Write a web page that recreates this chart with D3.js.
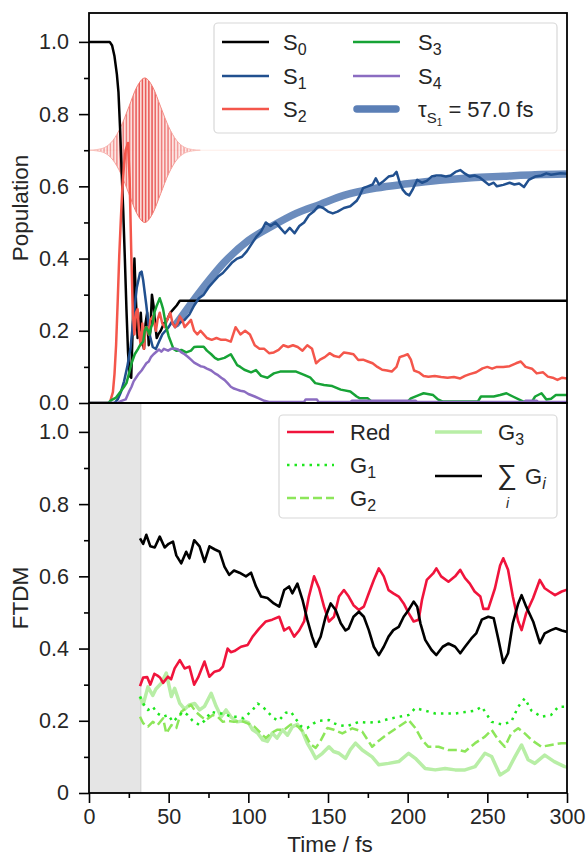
<!DOCTYPE html>
<html>
<head>
<meta charset="utf-8">
<script src="https://cdn.jsdelivr.net/npm/d3@7/dist/d3.min.js"></script>
<style>
body { margin: 0; background: #fff; }
text { font-family: "Liberation Sans", Arial, sans-serif; fill: #262626; }
</style>
</head>
<body>
<script>
// ---- top panel: state populations, [time fs, population]
var S0 = [[0,1],[13,1],[14.5,0.99],[16,0.96],[17.5,0.91],[18.5,0.86],[19.5,0.76],[20.5,0.64],[21.5,0.53],[22.5,0.4],[23.5,0.26],[24.5,0.14],[25.5,0.075],[26.5,0.07],[27.5,0.22],[28.5,0.4],[29.5,0.28],[30.5,0.18],[31.5,0.2],[32.5,0.25],[33.5,0.17],[34.5,0.15],[35.5,0.22],[36.5,0.25],[37.5,0.16],[38.5,0.2],[39.5,0.3],[40.5,0.27],[41.5,0.22],[42.5,0.18],[43.5,0.19],[45,0.2],[47,0.22],[49,0.23],[51,0.25],[53,0.26],[55,0.27],[57,0.283],[300,0.283]];

var S1 = [[0,0],[16,0],[18,0.01],[20,0.03],[22,0.06],[24,0.1],[26,0.15],[28,0.24],[30,0.32],[32,0.36],[33,0.364],[34,0.34],[36,0.27],[38,0.19],[40,0.155],[42,0.15],[44,0.17],[46,0.19],[48,0.2],[50,0.21],[52,0.225],[54,0.21],[56,0.22],[58,0.225],[60,0.23],[63,0.245],[66,0.27],[69,0.29],[72,0.3],[75,0.32],[78,0.335],[81,0.35],[84,0.36],[87,0.375],[90,0.39],[93,0.4],[96,0.405],[99,0.42],[102,0.44],[105,0.46],[108,0.475],[111,0.5],[114,0.49],[117,0.5],[120,0.485],[123,0.47],[126,0.485],[129,0.47],[132,0.49],[135,0.5],[138,0.52],[141,0.53],[144,0.545],[147,0.54],[150,0.53],[153,0.525],[156,0.53],[160,0.54],[164,0.545],[168,0.56],[170,0.575],[172,0.595],[175,0.6],[178,0.605],[180,0.622],[182,0.605],[185,0.615],[188,0.627],[191,0.63],[193,0.64],[195,0.61],[197,0.59],[199,0.58],[201,0.575],[203,0.59],[206,0.618],[209,0.61],[212,0.615],[215,0.627],[218,0.63],[221,0.63],[224,0.627],[227,0.63],[230,0.64],[233,0.645],[236,0.635],[239,0.627],[242,0.63],[245,0.625],[248,0.615],[251,0.604],[254,0.61],[256,0.6],[260,0.604],[264,0.61],[267,0.605],[270,0.608],[273,0.598],[276,0.618],[280,0.627],[284,0.63],[287,0.636],[290,0.632],[293,0.634],[296,0.636],[300,0.635]];

var S2 = [[0,0],[13,0],[15,0.03],[16,0.08],[17,0.16],[18,0.28],[19,0.41],[20,0.51],[21,0.6],[22,0.66],[23,0.7],[24.5,0.72],[25.5,0.62],[26.5,0.42],[27.5,0.25],[28.5,0.19],[29.5,0.25],[30.5,0.26],[31.5,0.19],[32.5,0.16],[33.5,0.22],[34.5,0.15],[35.5,0.21],[36.5,0.21],[37.5,0.19],[38.5,0.23],[40,0.24],[41,0.22],[42,0.2],[43,0.23],[44.4,0.25],[46,0.22],[47.5,0.21],[49,0.23],[51,0.25],[52.5,0.22],[54,0.21],[55.5,0.22],[57,0.24],[58.5,0.23],[60,0.21],[62,0.22],[64,0.23],[66,0.2],[68,0.19],[70,0.2],[72,0.19],[74,0.18],[77,0.175],[80,0.18],[83,0.175],[86,0.175],[89,0.17],[92,0.21],[95,0.19],[98,0.2],[101,0.19],[104,0.16],[107,0.15],[110,0.15],[113,0.138],[116,0.14],[119,0.147],[122,0.16],[125,0.155],[128,0.16],[131,0.155],[134,0.145],[137,0.16],[140,0.15],[142.5,0.11],[145,0.12],[148,0.127],[151,0.138],[154,0.13],[157,0.127],[160,0.14],[163,0.138],[166,0.135],[169,0.119],[172,0.12],[175,0.115],[178,0.11],[181,0.1],[184,0.092],[187,0.09],[190,0.087],[193,0.1],[195,0.127],[197,0.13],[200,0.135],[202,0.12],[204,0.09],[207,0.085],[210,0.075],[213,0.073],[217,0.075],[221,0.072],[225,0.07],[229,0.072],[233,0.068],[236,0.075],[239,0.08],[243,0.085],[247,0.096],[250,0.1],[253,0.095],[256,0.1],[260,0.1],[264,0.102],[268,0.11],[271,0.115],[274,0.1],[278,0.095],[281,0.082],[285,0.085],[288,0.073],[291,0.07],[294,0.064],[297,0.07],[300,0.068]];

var S3 = [[0,0],[12,0],[14,0.008],[17,0.015],[19.5,0.03],[22,0.045],[23.5,0.055],[25,0.08],[26.7,0.11],[28.7,0.135],[30.8,0.15],[32,0.16],[34,0.17],[35,0.2],[36,0.21],[37,0.2],[38,0.19],[39,0.21],[40,0.22],[41,0.25],[42.3,0.267],[43.5,0.28],[44.4,0.29],[45.5,0.275],[46.5,0.26],[47.5,0.235],[48.5,0.21],[50,0.185],[51.7,0.165],[53,0.15],[54.8,0.145],[58,0.147],[61,0.14],[64,0.145],[66,0.155],[68,0.156],[72,0.156],[74,0.145],[76.7,0.135],[79,0.125],[81,0.12],[85,0.125],[89,0.135],[91,0.12],[93,0.105],[95,0.1],[97.5,0.092],[101.7,0.085],[104.8,0.091],[108,0.075],[112,0.07],[116,0.082],[120,0.087],[125,0.087],[130,0.087],[135,0.078],[139,0.07],[142,0.055],[147.5,0.05],[152.7,0.047],[158,0.037],[164,0.032],[168,0.018],[170,0.013],[175,0.013],[177,0.005],[200,0.004],[202,0.013],[207,0.022],[210,0.027],[216,0.022],[219,0.01],[222,0.004],[244,0.004],[246,0.018],[254,0.018],[258,0.022],[262,0.027],[266,0.018],[272,0.005],[278,0.004],[280,0.018],[284,0.027],[287,0.01],[290,0.012],[293,0.022],[300,0.022]];

var S4 = [[0,0],[18,0],[20,0.005],[23,0.01],[25,0.03],[26.7,0.045],[28,0.06],[29.8,0.072],[31,0.08],[33,0.09],[34.5,0.1],[36,0.11],[37.5,0.115],[39,0.128],[40.5,0.135],[42.3,0.142],[44,0.148],[45.4,0.142],[47,0.15],[49.6,0.145],[51.5,0.15],[53.75,0.151],[56,0.148],[58,0.14],[60,0.135],[62,0.128],[64,0.12],[66,0.112],[68,0.107],[70,0.102],[72,0.1],[74,0.095],[76.7,0.09],[79,0.082],[81,0.077],[83,0.07],[85,0.064],[87,0.055],[89,0.045],[91,0.04],[93,0.037],[95,0.034],[97.5,0.032],[100,0.025],[104,0.018],[107,0.012],[110,0.006],[113,0.003],[135,0.003],[136,0.01],[143,0.01],[144,0.003],[164,0.003],[165,0.006],[205,0.006],[206,0.003],[273,0.003],[274,0.006],[281,0.006],[282,0.003],[300,0.003]];

// exponential fit of S1 (tau = 57.0 fs)
var S1fit = [[55,0.22],[70,0.31],[85,0.39],[100,0.45],[115,0.49],[130,0.525],[145,0.55],[160,0.575],[180,0.595],[200,0.607],[220,0.617],[240,0.624],[260,0.628],[280,0.632],[300,0.634]];

// pump pulse envelope (half amplitude) around the 0.7 baseline
var pulseBase = 0.7;
var pulseEnv = [[0,0],[5,0.002],[10,0.008],[15,0.027],[20,0.065],[25,0.12],[30,0.175],[35,0.2],[40,0.175],[45,0.12],[50,0.065],[55,0.027],[60,0.008],[65,0.002],[70,0]];

// ---- bottom panel: FTDM, [time fs, value]
var Red = [[32,0.296],[34,0.32],[36.5,0.321],[38.5,0.3],[41,0.33],[43,0.325],[44.5,0.32],[46.5,0.305],[49.5,0.322],[51.5,0.315],[53.75,0.345],[57,0.368],[60,0.345],[63,0.35],[66,0.3],[68.5,0.32],[72.5,0.364],[75.5,0.322],[78.75,0.336],[82,0.34],[84,0.35],[87,0.4],[89,0.39],[91.25,0.393],[95.4,0.405],[99.6,0.41],[102.7,0.433],[106.9,0.456],[111,0.475],[115,0.48],[119.4,0.488],[122.5,0.45],[125.6,0.459],[128.75,0.433],[131.9,0.45],[135,0.475],[138,0.544],[141.25,0.6],[144.4,0.567],[147.5,0.516],[150.6,0.475],[153.75,0.488],[156.9,0.544],[160,0.562],[163,0.544],[166,0.52],[169.4,0.507],[172.5,0.516],[175.6,0.553],[178.75,0.59],[181.9,0.622],[185,0.6],[188,0.562],[191,0.553],[194.4,0.544],[197.5,0.525],[200.6,0.498],[203.75,0.475],[206.9,0.48],[209,0.535],[212,0.59],[216,0.608],[218,0.622],[221,0.6],[225.6,0.585],[229.8,0.6],[233,0.618],[236,0.595],[239,0.58],[242,0.558],[245.6,0.544],[247.5,0.51],[250.6,0.51],[254.8,0.567],[258,0.63],[260,0.65],[263,0.618],[266,0.544],[269.4,0.475],[271.5,0.451],[274.4,0.498],[278.75,0.54],[282.9,0.59],[286,0.567],[289,0.558],[292.5,0.548],[296.7,0.558],[300,0.563]];

var G1 = [[32,0.267],[34,0.248],[37,0.23],[40,0.239],[43,0.22],[46.5,0.211],[49.6,0.216],[52.7,0.197],[55.8,0.211],[59,0.225],[62,0.216],[65,0.2],[69.4,0.188],[72.5,0.2],[76.7,0.225],[80.8,0.22],[85,0.22],[89,0.211],[93,0.211],[97,0.207],[102.7,0.23],[105.8,0.248],[109,0.239],[112,0.225],[116,0.207],[119,0.2],[123.5,0.222],[126.7,0.225],[129.8,0.205],[133,0.185],[137,0.18],[141,0.193],[144.4,0.2],[150.6,0.202],[153.75,0.193],[157,0.188],[162,0.185],[165,0.19],[169.4,0.197],[175,0.195],[181.9,0.197],[188,0.205],[194.4,0.211],[200.6,0.216],[204.8,0.235],[211,0.228],[217.3,0.22],[223.5,0.22],[229.8,0.22],[236,0.224],[242.3,0.228],[246.5,0.239],[252.7,0.197],[259,0.19],[265,0.197],[269.4,0.239],[273.5,0.262],[277.7,0.228],[284,0.211],[290,0.216],[294.6,0.239],[300,0.239]];

var G2 = [[32,0.211],[34,0.193],[37,0.184],[40,0.197],[43,0.188],[46.5,0.207],[48.5,0.165],[51.7,0.188],[54.8,0.18],[57.9,0.225],[61,0.235],[64,0.244],[67,0.225],[70.6,0.211],[73.5,0.202],[77.7,0.216],[80.8,0.211],[84,0.197],[87,0.2],[91,0.197],[95.4,0.2],[99.6,0.193],[103.75,0.184],[108,0.165],[111,0.152],[114,0.165],[118,0.175],[122.5,0.175],[126.7,0.19],[130.8,0.185],[135,0.168],[139,0.135],[142.3,0.125],[145.4,0.145],[149.6,0.18],[153.75,0.175],[159,0.165],[165.2,0.179],[171.5,0.17],[177.7,0.128],[181.9,0.145],[188,0.165],[194.4,0.184],[200.6,0.202],[204.8,0.18],[209,0.147],[213,0.128],[219.4,0.128],[225.6,0.119],[231.9,0.119],[236,0.115],[242.3,0.138],[248.5,0.156],[252.7,0.175],[256.9,0.147],[261,0.128],[265,0.165],[269.4,0.179],[273.5,0.165],[277.7,0.147],[284,0.128],[290,0.133],[296.5,0.138],[300,0.138]];

var G3 = [[32,0.267],[34,0.245],[37,0.294],[40,0.27],[42,0.288],[45.4,0.304],[48.5,0.332],[51.7,0.267],[53.75,0.29],[57,0.248],[60,0.232],[63,0.244],[66.25,0.248],[69.4,0.23],[72.5,0.24],[76.7,0.276],[79.8,0.24],[83,0.211],[86,0.23],[89,0.211],[93,0.197],[97,0.2],[100,0.195],[102.7,0.175],[105.8,0.166],[109,0.147],[112,0.143],[115,0.166],[118,0.152],[121.5,0.175],[124.6,0.16],[127.7,0.184],[130.8,0.19],[134,0.17],[137,0.138],[140,0.115],[142.3,0.096],[146.5,0.11],[150.6,0.128],[153.5,0.115],[156.9,0.11],[161,0.096],[164,0.12],[167.3,0.138],[171.5,0.119],[177.7,0.1],[181.9,0.078],[188,0.082],[194.4,0.087],[200.6,0.11],[204.8,0.096],[211,0.068],[217.3,0.064],[223.5,0.068],[229.8,0.064],[236,0.064],[242.3,0.073],[248.5,0.11],[252.7,0.101],[258,0.05],[263,0.064],[267.3,0.1],[271.5,0.133],[275.6,0.092],[279.8,0.082],[286,0.105],[292,0.087],[298.5,0.073],[300,0.072]];

var SumG = [[32,0.705],[34,0.69],[36,0.715],[38.5,0.683],[41.25,0.68],[44.4,0.71],[47.5,0.68],[50,0.69],[52.7,0.696],[54.8,0.658],[57.9,0.636],[61,0.668],[63,0.65],[66,0.7],[69.4,0.683],[72.5,0.64],[75.6,0.683],[78.75,0.675],[82,0.668],[85,0.627],[88,0.604],[91,0.616],[94.4,0.61],[98.5,0.6],[101.7,0.61],[104.8,0.572],[108,0.544],[112,0.54],[116,0.525],[119.4,0.516],[122.5,0.562],[125.6,0.572],[127.6,0.553],[130.8,0.58],[134,0.535],[137,0.48],[140,0.433],[142.3,0.405],[145.4,0.433],[148.5,0.488],[151.7,0.525],[154.8,0.507],[158,0.47],[161,0.45],[163,0.456],[166,0.488],[169.4,0.502],[172.5,0.488],[175.6,0.451],[178.75,0.405],[181.9,0.382],[185,0.405],[188,0.433],[191,0.451],[194.4,0.46],[197.5,0.488],[200.6,0.507],[203.75,0.53],[206,0.516],[208,0.47],[211,0.424],[215,0.396],[218,0.382],[222,0.405],[225.6,0.414],[229.8,0.405],[233,0.387],[236,0.405],[240,0.428],[243,0.442],[246.5,0.48],[250.6,0.488],[254,0.484],[257,0.424],[260,0.36],[263,0.387],[266,0.47],[269.4,0.525],[271.5,0.548],[274.4,0.516],[278.75,0.475],[283,0.415],[286,0.442],[290,0.451],[293,0.456],[296.7,0.45],[300,0.446]];

var shadeEnd = 32.5;   // grey region (fs) in the lower panel

// ticks
var xMajor = [0,50,100,150,200,250,300];
var xMinor = [25,75,125,175,225,275];
var yMajor = [0,0.2,0.4,0.6,0.8,1.0];
var yMinor = [0.1,0.3,0.5,0.7,0.9];

// ---- layout
var W = 587, H = 857;
var x = d3.scaleLinear().domain([0,300]).range([89,567]);
var yTop = d3.scaleLinear().domain([0,1.08]).range([403,13]);
var yBot = d3.scaleLinear().domain([0,1.08]).range([793,403]);

var svg = d3.select("body").append("svg")
    .attr("width", W)
    .attr("height", H);

var defs = svg.append("defs");
defs.append("clipPath").attr("id","clipTop").append("rect")
    .attr("x",89).attr("y",13).attr("width",478).attr("height",390);
defs.append("clipPath").attr("id","clipBot").append("rect")
    .attr("x",89).attr("y",403).attr("width",478).attr("height",390);

// vertical hatch used for the pump pulse oscillation
var pat = defs.append("pattern").attr("id","hatch")
    .attr("patternUnits","userSpaceOnUse")
    .attr("width",3.2).attr("height",20);
pat.append("rect").attr("width",3.2).attr("height",20).attr("fill","#fbd8d4");
pat.append("rect").attr("x",1).attr("width",1.3).attr("height",20).attr("fill","#e63a38");

var grad = defs.append("linearGradient").attr("id","fade")
    .attr("x1","0").attr("x2","1").attr("y1","0").attr("y2","0");
grad.append("stop").attr("offset","0").attr("stop-color","#fff").attr("stop-opacity",0.3);
grad.append("stop").attr("offset","0.33").attr("stop-color","#fff").attr("stop-opacity",0.75);
grad.append("stop").attr("offset","0.5").attr("stop-color","#fff").attr("stop-opacity",1);
grad.append("stop").attr("offset","0.67").attr("stop-color","#fff").attr("stop-opacity",0.75);
grad.append("stop").attr("offset","1").attr("stop-color","#fff").attr("stop-opacity",0.3);
defs.append("mask").attr("id","pulseMask")
  .append("rect")
    .attr("x",x(0)).attr("y",yTop(1)).attr("width",x(70)-x(0)).attr("height",yTop(0.4)-yTop(1))
    .attr("fill","url(#fade)");

function line(y) {
  return d3.line().x(function(d){ return x(d[0]); }).y(function(d){ return y(d[1]); });
}

// ================= top panel =================
var gTop = svg.append("g").attr("clip-path","url(#clipTop)");

// faint pulse baseline across the whole range
gTop.append("path")
    .attr("d", line(yTop)([[0,pulseBase],[300,pulseBase]]))
    .attr("fill","none").attr("stroke","#feeee8").attr("stroke-width",1);

var pulseArea = d3.area()
    .x(function(d){ return x(d[0]); })
    .y0(function(d){ return yTop(pulseBase - d[1]); })
    .y1(function(d){ return yTop(pulseBase + d[1]); })
    .curve(d3.curveMonotoneX);
var pg = gTop.append("g").attr("mask","url(#pulseMask)");
pg.append("path").attr("d", pulseArea(pulseEnv))
    .attr("fill","url(#hatch)").attr("stroke","#f06a60").attr("stroke-width",1);

// fit
gTop.append("path")
    .attr("d", line(yTop).curve(d3.curveMonotoneX)(S1fit))
    .attr("fill","none").attr("stroke","#5b7fb6").attr("stroke-width",7.5)
    .attr("stroke-linecap","round").attr("opacity",0.9);

var topSeries = [
  {data:S0, color:"#000000"},
  {data:S1, color:"#21508f"},
  {data:S2, color:"#f4564b"},
  {data:S3, color:"#17a336"},
  {data:S4, color:"#8b6cc1"}
];
topSeries.forEach(function(s){
  gTop.append("path").attr("d", line(yTop)(s.data))
     .attr("fill","none").attr("stroke",s.color).attr("stroke-width",2.5)
     .attr("stroke-linejoin","round");
});

// ================= bottom panel =================
var gBot = svg.append("g").attr("clip-path","url(#clipBot)");
gBot.append("rect")
    .attr("x",x(0)).attr("y",yBot(1.08))
    .attr("width",x(shadeEnd)-x(0)).attr("height",yBot(0)-yBot(1.08))
    .attr("fill","#e5e5e5");
gBot.append("line")
    .attr("x1",x(shadeEnd)).attr("x2",x(shadeEnd))
    .attr("y1",yBot(1.08)).attr("y2",yBot(0))
    .attr("stroke","#d2d2d2").attr("stroke-width",1.2);

var botSeries = [
  {data:G3, color:"#b8eea6", w:3.5, dash:null},
  {data:G2, color:"#8de65a", w:2.5, dash:"9,4"},
  {data:G1, color:"#1ee61e", w:2.5, dash:"2.5,5"},
  {data:Red, color:"#f0143c", w:2.6, dash:null},
  {data:SumG, color:"#000000", w:2.6, dash:null}
];
botSeries.forEach(function(s){
  gBot.append("path").attr("d", line(yBot)(s.data))
     .attr("fill","none").attr("stroke",s.color).attr("stroke-width",s.w)
     .attr("stroke-dasharray",s.dash).attr("stroke-linejoin","round");
});

// ================= axes =================
function yAxis(y, fmt) {
  svg.append("g").attr("transform","translate(89,0)")
     .call(d3.axisLeft(y).tickValues(yMajor).tickSize(10).tickPadding(10).tickFormat(fmt))
     .call(function(g){ g.select(".domain").remove(); });
  svg.append("g").attr("transform","translate(89,0)")
     .call(d3.axisLeft(y).tickValues(yMinor).tickSize(5).tickFormat(""))
     .call(function(g){ g.select(".domain").remove(); });
}
yAxis(yTop, d3.format(".1f"));
yAxis(yBot, function(d){ return d === 0 ? "0" : d3.format(".1f")(d); });

svg.append("g").attr("transform","translate(0,793)")
   .call(d3.axisBottom(x).tickValues(xMajor).tickSize(10).tickPadding(6).tickFormat(d3.format("d")))
   .call(function(g){ g.select(".domain").remove(); });
svg.append("g").attr("transform","translate(0,793)")
   .call(d3.axisBottom(x).tickValues(xMinor).tickSize(5).tickFormat(""))
   .call(function(g){ g.select(".domain").remove(); });

svg.selectAll(".tick line").attr("stroke","#000").attr("stroke-width",1.6);
svg.selectAll(".tick text").attr("font-size",21.5).attr("fill","#262626")
   .attr("font-family","Liberation Sans, Arial, sans-serif");

// frames
[[13,403],[403,793]].forEach(function(r){
  svg.append("rect").attr("x",89).attr("y",r[0]).attr("width",478).attr("height",r[1]-r[0])
     .attr("fill","none").attr("stroke","#000").attr("stroke-width",1.8);
});

// axis labels
svg.append("text").attr("transform","translate(28,208) rotate(-90)")
   .attr("text-anchor","middle").attr("font-size",22.5).text("Population");
svg.append("text").attr("transform","translate(28,598) rotate(-90)")
   .attr("text-anchor","middle").attr("font-size",22.5).text("FTDM");
svg.append("text").attr("x",330).attr("y",852)
   .attr("text-anchor","middle").attr("font-size",22.5).text("Time / fs");

// ================= legends =================
function legendBox(x0, y0, w, h) {
  svg.append("rect").attr("x",x0).attr("y",y0).attr("width",w).attr("height",h)
     .attr("rx",4).attr("fill","#fff").attr("fill-opacity",0.85)
     .attr("stroke","#d8d8d8").attr("stroke-width",1.2);
}
function handle(x1, x2, y, color, w, dash, cap) {
  svg.append("line").attr("x1",x1).attr("x2",x2).attr("y1",y).attr("y2",y)
     .attr("stroke",color).attr("stroke-width",w)
     .attr("stroke-dasharray",dash || null).attr("stroke-linecap",cap || "butt");
}
function subLabel(xp, y, base, sub) {
  var t = svg.append("text").attr("x",xp).attr("y",y+7.5).attr("font-size",22);
  t.append("tspan").text(base);
  if (sub !== undefined) t.append("tspan").attr("dy",5).attr("font-size",16).text(sub);
  return t;
}

// top legend
legendBox(214, 23, 343, 110);
var topLegend = [
  {label:"S", sub:"0", color:"#000000", col:0, row:0},
  {label:"S", sub:"1", color:"#21508f", col:0, row:1},
  {label:"S", sub:"2", color:"#f4564b", col:0, row:2},
  {label:"S", sub:"3", color:"#17a336", col:1, row:0},
  {label:"S", sub:"4", color:"#8b6cc1", col:1, row:1}
];
var rowY = [42, 76, 109];
topLegend.forEach(function(d){
  var hx = d.col === 0 ? 222 : 353;
  var tx = d.col === 0 ? 283 : 418;
  handle(hx, hx + 47, rowY[d.row], d.color, 2.5);
  subLabel(tx, rowY[d.row], d.label, d.sub);
});
handle(357, 396, rowY[2], "#5b7fb6", 7.5, null, "round");
var tau = svg.append("text").attr("x",418).attr("y",rowY[2]+7.5).attr("font-size",22);
tau.append("tspan").text("τ");
tau.append("tspan").attr("dy",6).attr("font-size",15).text("S");
tau.append("tspan").attr("dy",3).attr("font-size",10).text("1");
tau.append("tspan").attr("dy",-9).text(" = 57.0 fs");

// bottom legend
legendBox(279, 415, 278, 103);
var botRows = [432, 465, 498];
handle(287, 334, botRows[0], "#f0143c", 2.6);
subLabel(350, botRows[0], "Red");
handle(287, 334, botRows[1], "#1ee61e", 2.5, "2.5,5");
subLabel(350, botRows[1], "G", "1");
handle(287, 334, botRows[2], "#8de65a", 2.5, "9,4");
subLabel(350, botRows[2], "G", "2");
handle(435, 482, botRows[0], "#b8eea6", 3.5);
subLabel(498, botRows[0], "G", "3");
handle(435, 482, 476, "#000000", 2.6);
svg.append("text").attr("x",497).attr("y",484).attr("font-size",28)
   .attr("font-family","DejaVu Sans, sans-serif").text("∑");
svg.append("text").attr("x",506).attr("y",508).attr("font-size",14)
   .attr("font-style","italic").text("i");
var gi = svg.append("text").attr("x",525).attr("y",484).attr("font-size",22);
gi.append("tspan").text("G");
gi.append("tspan").attr("dy",5).attr("font-size",16).attr("font-style","italic").text("i");
</script>
</body>
</html>
